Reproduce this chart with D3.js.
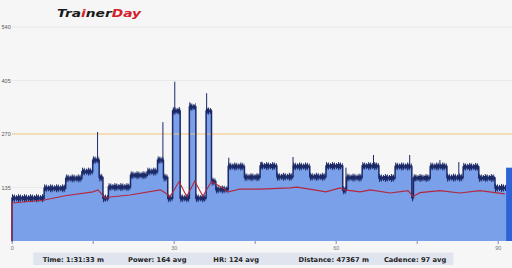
<!DOCTYPE html>
<html>
<head>
<meta charset="utf-8">
<script src="https://cdn.jsdelivr.net/npm/d3@7"></script>
<style>
  body { margin: 0; background: #f6f6f6; }
  svg { display: block; font-family: "DejaVu Sans", sans-serif; }
</style>
</head>
<body>
<svg id="chart"></svg>
<script>
// ------------------ data ------------------------------------------

// power steps: start minute of each step and its watts
let powerMin = [0, 0.05, 6, 10, 13, 15, 16.2, 16.9, 17.9, 22, 25.1, 27, 28.1, 28.9,
    29.8, 31.2, 32.9, 34.1, 36, 37, 37.8, 40.1, 43.1, 46, 49.1, 52.1, 55.2, 58.2,
    61.3, 62, 64.9, 68, 71, 74.1, 74.4, 77.5, 80.6, 83.6, 86.5, 89.5, 91.55];
let powerW = [0, 108, 133, 158, 175, 204, 160, 108, 136, 166, 175, 204, 160, 108,
    328, 108, 338, 108, 328, 150, 130, 188, 161, 189, 162, 188, 162, 189,
    128, 160, 189, 159, 188, 110, 159, 188, 160, 187, 159, 134, 134];

// short power spikes: minute and peak watts
let spikeMin = [15.9, 28.0, 30.2, 33.0, 36.1, 40.2, 46.3, 52.1, 61.9, 67.0, 73.7, 79.3, 82.8];
let spikeW = [275, 300, 402, 350, 373, 210, 200, 212, 185, 217, 217, 204, 199];

// heart rate
let hrMin = [0, 0.05, 5.8, 9.9, 15.05, 16, 17.3, 18.2, 21.9, 27.5, 28.4, 29.3, 31, 32.4,
    33.9, 35.4, 37, 39.1, 40.1, 42.3, 46, 51.5, 52.8, 55.2, 58.2, 60.8, 61.7, 64.5,
    66.4, 70.1, 73.4, 74.3, 75.6, 79.3, 83, 86.7, 91.3];
let hrBpm = [0, 96, 103, 114, 124, 129, 108, 111, 116, 129, 122, 111, 150, 112,
    151, 113, 150, 134, 124, 131, 131, 134, 136, 131, 124, 134, 129, 124,
    129, 121, 127, 112, 122, 127, 121, 127, 119];

let ftp = 270;
let totalMin = 91.55;
let cursorW = 185;

let yTicks = [135, 270, 405, 540];
let xTicks = [0, 15, 30, 45, 60, 75, 90];
let xLabels = [0, 30, 60, 90];

let stats = ['Time: 1:31:33 m', 'Power: 164 avg', 'HR: 124 avg', 'Distance: 47367 m', 'Cadence: 97 avg'];

// ------------------ chart ---------------------

let svgWidth = 512;
let svgHeight = 268;
let navy = '#1c2a68';

let svg = d3.select('#chart')
    .attr('width', svgWidth)
    .attr('height', svgHeight);

// jagged texture for the noisy power band
let pat = svg.append('defs').append('pattern')
    .attr('id', 'noise')
    .attr('patternUnits', 'userSpaceOnUse')
    .attr('width', 6)
    .attr('height', 8);
[[0, 8], [1.5, 5], [0.5, 7], [2.5, 3], [1, 6], [2, 4]].forEach((c, i) => {
    pat.append('rect')
        .attr('x', i)
        .attr('y', c[0])
        .attr('width', 1)
        .attr('height', c[1])
        .attr('fill', navy);
});

let xScale = d3.scaleLinear()
    .domain([0, 90])
    .range([11.7, 497.7]);

let yScale = d3.scaleLinear()
    .domain([0, 540])
    .range([241, 27]);

// grid lines
svg.append('g').selectAll('line')
    .data(yTicks.filter(d => d !== ftp))
    .enter()
    .append('line')
    .attr('x1', xScale(0))
    .attr('x2', svgWidth)
    .attr('y1', d => yScale(d))
    .attr('y2', d => yScale(d))
    .attr('stroke', '#e6e6e6')
    .attr('stroke-width', 0.8);

let power = powerMin.map((m, i) => ({ m: m, w: powerW[i] }));
let steps = power.slice(0, -1).map((d, i) => ({ m0: d.m, m1: power[i + 1].m, w: d.w }));

let area = d3.area()
    .x(d => xScale(d.m))
    .y0(yScale(0))
    .y1(d => yScale(d.w))
    .curve(d3.curveStepAfter);

svg.append('path')
    .datum(power)
    .attr('d', area)
    .attr('fill', '#7aa0e9');

// ftp line
svg.append('line')
    .attr('x1', xScale(0))
    .attr('x2', svgWidth)
    .attr('y1', yScale(ftp))
    .attr('y2', yScale(ftp))
    .attr('stroke', '#f5c27c')
    .attr('stroke-width', 1);

// noisy power band
svg.append('g').selectAll('g')
    .data(steps.filter(d => d.w > 0))
    .enter()
    .append('g')
    .attr('transform', d => 'translate(' + xScale(d.m0) + ',' + (yScale(d.w) - 4) + ')')
    .append('rect')
    .attr('width', d => Math.max(0.5, xScale(d.m1) - xScale(d.m0)))
    .attr('height', 8)
    .attr('fill', 'url(#noise)');

let powerLine = d3.line()
    .x(d => xScale(d.m))
    .y(d => yScale(d.w))
    .curve(d3.curveStepAfter);

svg.append('path')
    .datum(power)
    .attr('d', powerLine)
    .attr('fill', 'none')
    .attr('stroke', navy)
    .attr('stroke-width', 1.5);

// spikes
svg.append('g').selectAll('line')
    .data(spikeMin)
    .enter()
    .append('line')
    .attr('x1', d => xScale(d))
    .attr('x2', d => xScale(d))
    .attr('y1', d => {
        let step = steps.find(s => d >= s.m0 && d < s.m1);
        return yScale(step.w);
    })
    .attr('y2', (d, i) => yScale(spikeW[i]))
    .attr('stroke', navy)
    .attr('stroke-width', 1);

// heart rate
let hrLine = d3.line()
    .x((d, i) => xScale(hrMin[i]))
    .y(d => yScale(d));

svg.append('path')
    .datum(hrBpm)
    .attr('d', hrLine)
    .attr('fill', 'none')
    .attr('stroke', '#b2283e')
    .attr('stroke-width', 1.1);

// cursor bar at the end
svg.append('rect')
    .attr('x', xScale(totalMin))
    .attr('width', svgWidth - xScale(totalMin))
    .attr('y', yScale(cursorW))
    .attr('height', yScale(0) - yScale(cursorW))
    .attr('fill', '#2e62d8');

// axes
let x_axis = d3.axisBottom(xScale)
    .tickValues(xTicks)
    .tickSize(3)
    .tickPadding(2)
    .tickFormat(d => xLabels.includes(d) ? d : '');

let gx = svg.append('g')
    .attr('transform', 'translate(0,' + yScale(0) + ')')
    .call(x_axis);
gx.select('.domain').remove();
gx.selectAll('line').attr('stroke', '#7a8db8');
gx.selectAll('text').attr('fill', '#777').style('font-size', '5.5px');

let y_axis = d3.axisLeft(yScale)
    .tickValues(yTicks)
    .tickSize(0)
    .tickPadding(1);

let gy = svg.append('g')
    .attr('transform', 'translate(' + xScale(0) + ',0)')
    .call(y_axis);
gy.select('.domain').remove();
gy.selectAll('text').attr('fill', '#555').style('font-size', '5.5px');

// logo
let logo = svg.append('text')
    .attr('x', 57)
    .attr('y', 16.5)
    .attr('textLength', 84)
    .attr('lengthAdjust', 'spacingAndGlyphs')
    .style('font-size', '11px')
    .style('font-weight', 'bold')
    .style('font-style', 'italic');
logo.append('tspan').text('Tra').attr('fill', '#1a1a1a');
logo.append('tspan').text('i').attr('fill', '#d4202a');
logo.append('tspan').text('ner').attr('fill', '#1a1a1a');
logo.append('tspan').text('Day').attr('fill', '#d4202a');

// footer stats
svg.append('rect')
    .attr('x', 33.3)
    .attr('y', 252.5)
    .attr('width', 420)
    .attr('height', 12.5)
    .attr('fill', '#dfe4ee');

svg.append('g').selectAll('text')
    .data(stats)
    .enter()
    .append('text')
    .attr('x', (d, i) => 42.7 + i * 85.3)
    .attr('y', 261.5)
    .attr('fill', '#222')
    .style('font-size', '6.7px')
    .style('font-weight', 'bold')
    .text(d => d);
</script>
</body>
</html>
